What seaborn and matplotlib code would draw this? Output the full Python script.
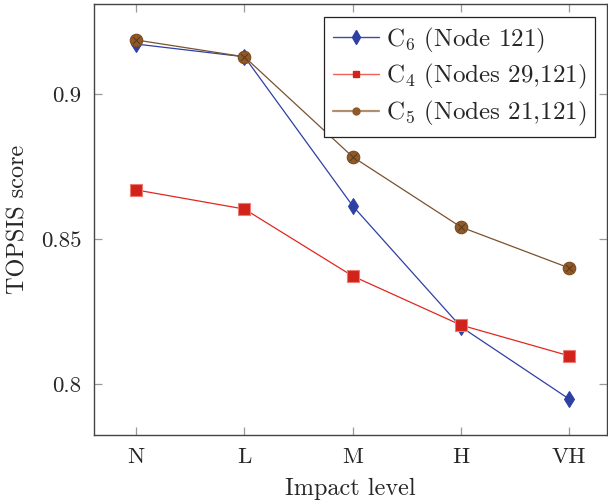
import numpy as np
import pandas as pd
import seaborn as sns
import matplotlib.pyplot as plt
from matplotlib.lines import Line2D

# values
levels = ['N', 'L', 'M', 'H', 'VH']
c6 = [0.9172, 0.9128, 0.8614, 0.8197, 0.7948]
c4 = [0.8669, 0.8603, 0.8372, 0.8203, 0.8097]
c5 = [0.9186, 0.9128, 0.8783, 0.8541, 0.8400]
yticks = [0.8, 0.85, 0.9]
ytick_labels = ['0.8', '0.85', '0.9']
names = ['C$_6$ (Node 121)', 'C$_4$ (Nodes 29,121)', 'C$_5$ (Nodes 21,121)']

sns.set_style('ticks')
plt.rcParams['font.family'] = ['cmr10']
plt.rcParams['mathtext.fontset'] = 'cm'
plt.rcParams['axes.formatter.use_mathtext'] = True

blue = '#2E40A4'
red = '#E0281F'
red_fill = '#D0231C'
brown_line = '#7A5230'
brown_fill = '#8F5A2A'

x = np.arange(len(levels))
df = pd.DataFrame({'x': x, 'C6': c6, 'C4': c4, 'C5': c5})

fig = plt.figure(figsize=(6.08, 5.03), dpi=100)
ax = fig.add_axes([0.1546, 0.1352, 0.8438, 0.8568])

sns.lineplot(data=df, x='x', y='C6', ax=ax, color=blue, lw=0.9,
             marker='d', ms=8.5, mfc=blue, mec=blue, zorder=3)
sns.lineplot(data=df, x='x', y='C4', ax=ax, color=red, lw=0.9,
             marker='s', ms=8, mfc=red_fill, mec='#F07A70', mew=0.8, zorder=3)
sns.lineplot(data=df, x='x', y='C5', ax=ax, color=brown_line, lw=0.9,
             marker='o', ms=9, mfc=brown_fill, mec='#7A4A20', mew=0.8, zorder=4)
# crossed circles (pgfplots otimes)
sns.scatterplot(data=df, x='x', y='C5', ax=ax, marker='x', s=25,
                color='#5A3815', linewidth=0.7, zorder=5, legend=False)

ax.set_xlim(-0.39, 4.35)
ax.set_ylim(0.7824, 0.931)
ax.set_xticks(x)
ax.set_xticklabels(levels)
ax.set_yticks(yticks)
ax.set_yticklabels(ytick_labels)
ax.tick_params(direction='in', length=6, width=0.9, color='#9a9a9a',
               top=True, right=True, labelsize=16.5, pad=9)
for s in ax.spines.values():
    s.set_color('#444444')
    s.set_linewidth(1.0)

ax.set_xlabel('Impact level', fontsize=17.5, labelpad=8)
ax.set_ylabel('TOPSIS score', fontsize=17.5, labelpad=8)

handles = [
    Line2D([], [], color='#3A4CB0', lw=1.0, marker='d', ms=7, mfc=blue, mec=blue),
    Line2D([], [], color='#F0605A', lw=1.0, marker='s', ms=5, mfc=red_fill, mec=red_fill),
    Line2D([], [], color='#B09070', lw=1.6, marker='o', ms=5, mfc=brown_fill, mec=brown_fill),
]
leg = ax.legend(handles, names, loc='upper right', bbox_to_anchor=(0.9766, 0.970),
                borderaxespad=0, fontsize=18, fancybox=False, framealpha=1,
                edgecolor='#222222', handlelength=1.85, handletextpad=0.25,
                labelspacing=0.3, borderpad=0.35)
leg.get_frame().set_linewidth(0.9)

fig.savefig('out.png', dpi=100)
